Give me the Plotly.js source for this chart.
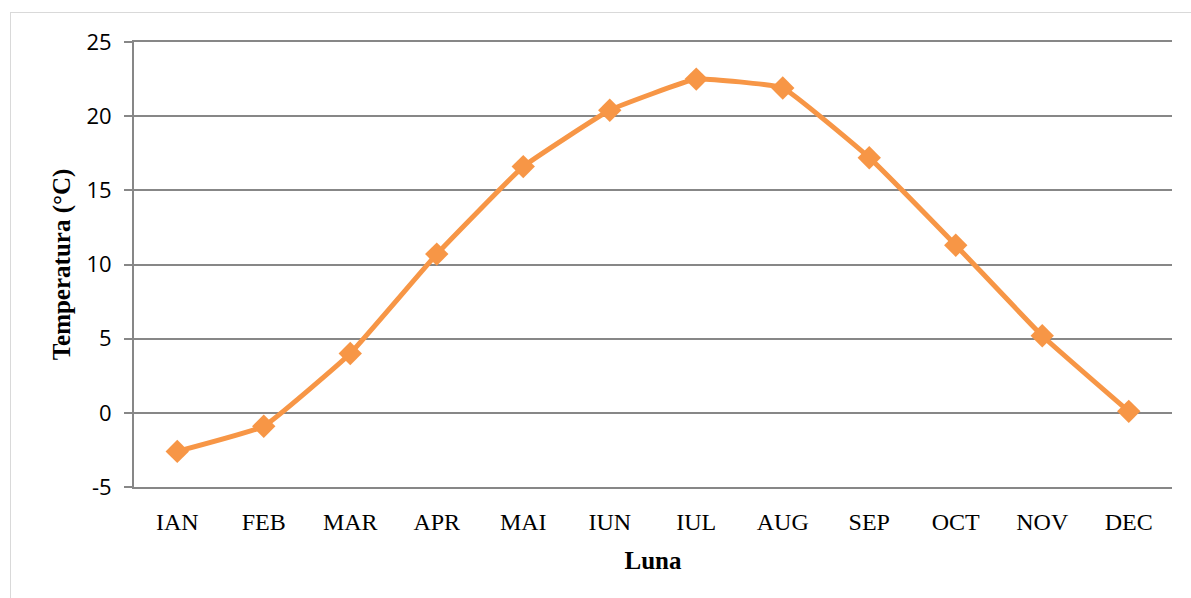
<!DOCTYPE html>
<html>
<head>
<meta charset="utf-8">
<script src="https://cdn.plot.ly/plotly-3.0.1.min.js"></script>
<style>
html,body{margin:0;padding:0;background:#fff;}
#wrap{position:relative;width:1191px;height:598px;overflow:hidden;}
#frame{position:absolute;left:10px;top:12px;width:1200px;height:600px;border:1.5px solid #d9d9d9;box-sizing:border-box;pointer-events:none;}
#chart{position:absolute;left:0;top:0;width:1191px;height:598px;}
</style>
</head>
<body>
<div id="wrap">
<div id="chart"></div>
<div id="frame"></div>
</div>
<script>
const months = ["IAN","FEB","MAR","APR","MAI","IUN","IUL","AUG","SEP","OCT","NOV","DEC"];
const temperature = [-2.6, -0.9, 4.0, 10.7, 16.6, 20.4, 22.5, 21.9, 17.2, 11.3, 5.2, 0.1];
const yTicks = [-5, 0, 5, 10, 15, 20, 25];
const yTickText = ["-5", "0", "5", "10", "15", "20", "25"];

const trace = {
  x: months,
  y: temperature,
  type: "scatter",
  mode: "lines+markers",
  line: {color: "#F79646", width: 5, shape: "spline", smoothing: 0.3},
  marker: {symbol: "diamond", size: 18, color: "#F79646", line: {width: 0}},
  hoverinfo: "x+y"
};

const layout = {
  width: 1191,
  height: 598,
  margin: {l: 134, r: 19, t: 42, b: 111},
  paper_bgcolor: "rgba(0,0,0,0)",
  plot_bgcolor: "#ffffff",
  showlegend: false,
  xaxis: {
    type: "category",
    range: [-0.5, 11.5],
    showgrid: false,
    zeroline: false,
    showline: true,
    mirror: true,
    linecolor: "#878787",
    linewidth: 2,
    ticks: "",
    ticklabelstandoff: 12,
    tickfont: {family: "Liberation Serif, DejaVu Serif, serif", size: 24, color: "#000"},
    title: {text: "<b>Luna</b>", font: {family: "Liberation Serif, DejaVu Serif, serif", size: 25, color: "#000"}, standoff: 18}
  },
  yaxis: {
    range: [-5, 25],
    tickvals: yTicks,
    ticktext: yTickText,
    showgrid: true,
    gridcolor: "#878787",
    gridwidth: 2,
    zeroline: false,
    showline: true,
    linecolor: "#878787",
    linewidth: 2,
    ticks: "outside",
    ticklen: 8,
    tickcolor: "#878787",
    tickwidth: 2,
    ticklabelstandoff: 8,
    tickfont: {family: "Open Sans, Liberation Sans, sans-serif", size: 22, color: "#000"},
    title: {text: "<b>Temperatura (°C)</b>", font: {family: "Liberation Serif, DejaVu Serif, serif", size: 25, color: "#000"}, standoff: 9}
  }
};

Plotly.newPlot("chart", [trace], layout, {displayModeBar: false, staticPlot: true});
</script>
</body>
</html>
